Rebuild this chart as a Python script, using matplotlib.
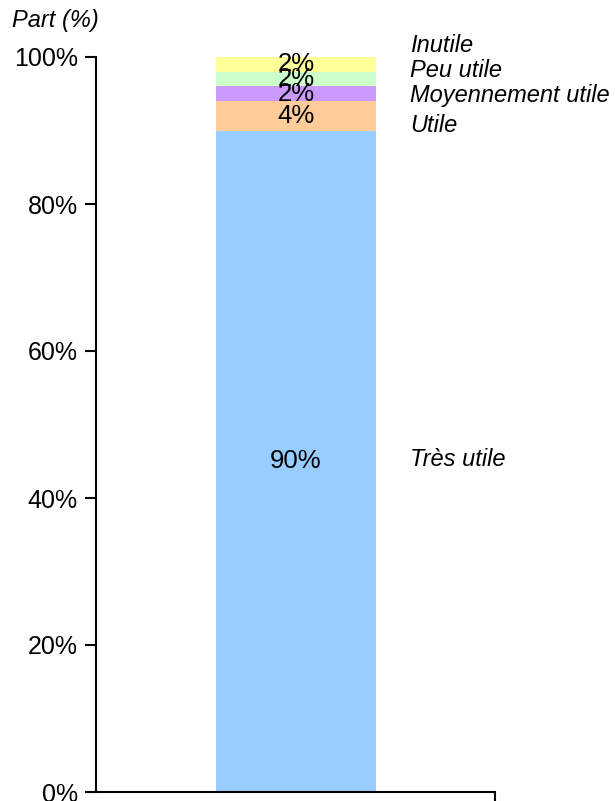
import matplotlib.pyplot as plt

plt.rcParams['font.family'] = ['Liberation Sans', 'DejaVu Sans']

# data, bottom to top
categories = ["Très utile", "Utile", "Moyennement utile", "Peu utile", "Inutile"]
values = [90, 4, 2, 2, 2]
colors = ["#99ccff", "#ffcc99", "#cc99ff", "#ccffcc", "#ffff99"]
# where the side labels sit (in % of axis), spread so they don't overlap
label_pos = [45.3, 90.7, 94.8, 98.2, 101.6]

fig = plt.figure(figsize=(6.15, 8.01), dpi=100)
ax = fig.add_axes([96/615, 9/801, 399/615, 735/801])

bottom = 0
for cat, v, c, ly in zip(categories, values, colors, label_pos):
    ax.bar(0, v, bottom=bottom, width=0.8, color=c, edgecolor="none")
    ax.text(0, bottom + v/2, "%d%%" % v, ha="center", va="center", fontsize=18.5)
    ax.text(0.57, ly, cat, ha="left", va="center", fontsize=17, style="italic",
            clip_on=False)
    bottom += v

ax.set_xlim(-1.0, 0.995)
ax.set_ylim(0, 100)
ax.set_yticks([0, 20, 40, 60, 80, 100])
ax.set_yticklabels(["0%", "20%", "40%", "60%", "80%", "100%"], fontsize=18)
ax.set_xticks([0.995])
ax.set_xticklabels([])
ax.tick_params(axis="y", direction="out", length=8, width=1.5, pad=5)
ax.tick_params(axis="x", direction="out", length=8, width=1.5)
for s in ["top", "right"]:
    ax.spines[s].set_visible(False)
for s in ["left", "bottom"]:
    ax.spines[s].set_linewidth(1.5)

fig.text(12/615, 1 - 20/801, "Part (%)", ha="left", va="center", fontsize=17, style="italic")

fig.savefig("out.png", dpi=100)
